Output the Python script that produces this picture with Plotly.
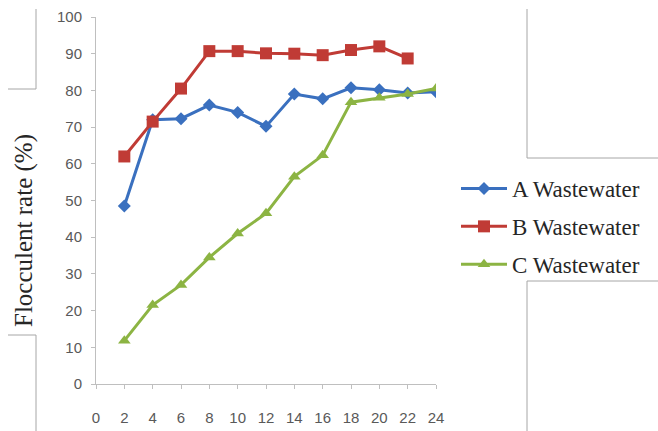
import plotly.graph_objects as go

x_hours = [2, 4, 6, 8, 10, 12, 14, 16, 18, 20, 22, 24]
a_values = [48.5, 72, 72.3, 76, 74, 70.2, 79, 77.7, 80.7, 80.2, 79.3, 79.6]
b_values = [62, 71.5, 80.5, 90.7, 90.7, 90.1, 90, 89.6, 91, 92, 88.7]
c_values = [11.8, 21.5, 27, 34.5, 41, 46.5, 56.5, 62.3, 76.8, 78, 79, 80.5]
y_ticks = [0, 10, 20, 30, 40, 50, 60, 70, 80, 90, 100]
x_ticks = [0, 2, 4, 6, 8, 10, 12, 14, 16, 18, 20, 22, 24]

W, H = 658, 431
L, R, T, B = 96, 222, 17, 47
PW, PH = W - L - R, H - T - B

SERIF = "Liberation Serif, Times New Roman, Times, serif"
NARROW = "Liberation Sans Narrow, Arial Narrow, sans-serif"

def xp(px):
    return (px - L) / PW

def yp(py):
    return (H - B - py) / PH

fig = go.Figure()
fig.add_trace(go.Scatter(x=x_hours, y=a_values, name="A Wastewater", mode="lines+markers",
                         line=dict(color="#3A70BF", width=3),
                         marker=dict(symbol="diamond", size=10, color="#3A70BF"),
                         legendgroup="a"))
fig.add_trace(go.Scatter(x=x_hours[:len(b_values)], y=b_values, name="B Wastewater", mode="lines+markers",
                         line=dict(color="#C03B35", width=3),
                         marker=dict(symbol="square", size=12, color="#C03B35"),
                         legendgroup="b"))
fig.add_trace(go.Scatter(x=x_hours, y=c_values, name="C Wastewater", mode="lines+markers",
                         line=dict(color="#8CB443", width=3),
                         marker=dict(symbol="triangle-up", size=11, color="#8CB443"),
                         legendgroup="c"))

axis_common = dict(showline=True, linecolor="#BFBFBF", linewidth=1, ticks="outside",
                   tickcolor="#BFBFBF", ticklen=4, showgrid=False, zeroline=False,
                   tickfont=dict(family=NARROW, size=15, color="#595959"))
fig.update_xaxes(range=[0, 24], tickvals=x_ticks, ticktext=[str(v) for v in x_ticks],
                 ticklabelstandoff=16, **axis_common)
fig.update_yaxes(range=[0, 100], tickvals=y_ticks, ticktext=[str(v) for v in y_ticks],
                 ticklabelstandoff=6, **axis_common)

line_style = dict(color="#A6A6A6", width=1)
shapes = []
def seg(x0, y0, x1, y1):
    shapes.append(dict(type="line", xref="paper", yref="paper",
                       x0=xp(x0), y0=yp(y0), x1=xp(x1), y1=yp(y1), line=line_style))
seg(36, 9, 36, 89); seg(8, 89, 36, 89)
seg(8, 335, 36, 335); seg(36, 335, 36, 431)
seg(527, 9, 527, 158); seg(527, 158, 658, 158)
seg(527, 281, 658, 281); seg(527, 281, 527, 431)

fig.update_layout(
    width=W, height=H,
    margin=dict(l=L, r=R, t=T, b=B, autoexpand=False),
    paper_bgcolor="white", plot_bgcolor="white",
    shapes=shapes,
    showlegend=True,
    legend=dict(x=xp(456), y=yp(167), xanchor="left", yanchor="top",
                font=dict(family=SERIF, size=23, color="#262626"),
                itemwidth=46, tracegroupgap=5, bgcolor="rgba(0,0,0,0)"),
    annotations=[dict(text="Flocculent rate (%)", textangle=-90, xref="paper", yref="paper",
                      x=xp(24), y=yp(231), showarrow=False, xanchor="center", yanchor="middle",
                      font=dict(family=SERIF, size=25, color="#262626"))],
)

fig.write_html("out.html", config={"displayModeBar": False},
               post_script="document.body.style.margin='0';document.body.style.padding='0';")
